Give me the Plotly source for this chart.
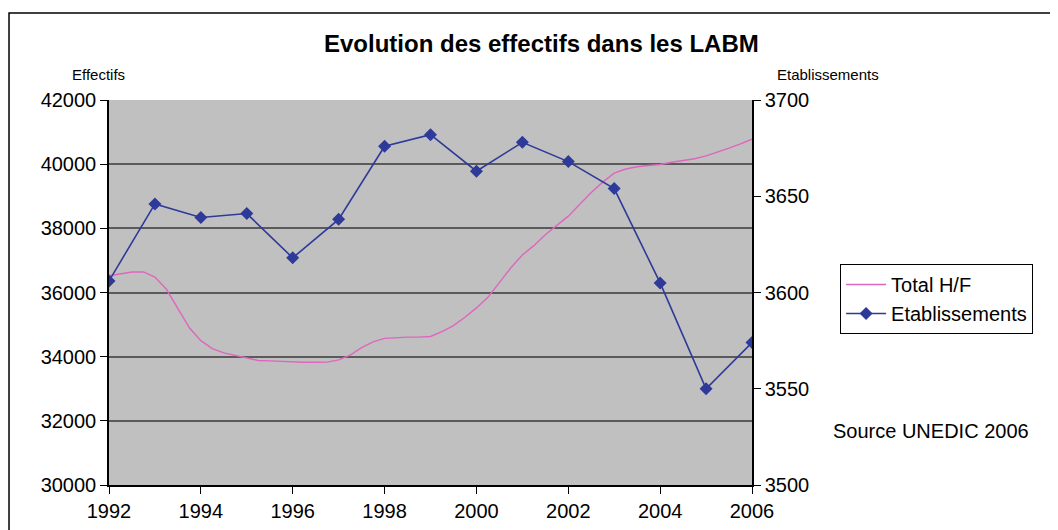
import plotly.graph_objects as go

# Etablissements (right axis), yearly
annees = [1992, 1993, 1994, 1995, 1996, 1997, 1998, 1999, 2000, 2001, 2002, 2003, 2004, 2005, 2006]
etablissements = [3606, 3646, 3639, 3641, 3618, 3638, 3676, 3682, 3663, 3678, 3668, 3654, 3605, 3550, 3574]

# Total H/F (left axis), quarterly from 1992 to 2006
trimestres = [1992 + i * 0.25 for i in range(57)]
total_hf = [
    36520, 36580, 36640, 36640,
    36480, 36100, 35500, 34900,
    34500, 34250, 34120, 34040,
    33960, 33880, 33870, 33850,
    33830, 33825, 33825, 33830,
    33900, 34050, 34280, 34460,
    34570, 34600, 34610, 34610,
    34630, 34780, 34970, 35230,
    35520, 35850, 36320, 36770,
    37170, 37460, 37800, 38100,
    38380, 38750, 39120, 39440,
    39720, 39850, 39920, 39960,
    39990, 40060, 40110, 40170,
    40260, 40370, 40500, 40630,
    40780,
]

FONT = "Arial, Liberation Sans, sans-serif"

fig = go.Figure()
fig.add_trace(go.Scatter(x=trimestres, y=total_hf, name="Total H/F", mode="lines",
                         line=dict(color="#DE66BE", width=1.4), yaxis="y"))
fig.add_trace(go.Scatter(x=annees, y=etablissements, name="Etablissements", mode="lines+markers",
                         line=dict(color="#2E3A99", width=1.6),
                         marker=dict(symbol="diamond", size=10, color="#2E3A99"), yaxis="y2"))

# page body has an 8px margin, so offsets are shifted accordingly
fig.update_layout(
    width=1058, height=530,
    margin=dict(l=101, r=314, t=92, b=53, autoexpand=False),
    paper_bgcolor="white", plot_bgcolor="#C0C0C0",
    font=dict(family=FONT, color="black", size=20),
    showlegend=True,
    legend=dict(x=1.137, xanchor="left", y=0.574, yanchor="top",
                bgcolor="white", bordercolor="black", borderwidth=1,
                font=dict(size=20), tracegroupgap=0, itemwidth=40),
    xaxis=dict(range=[1992, 2006], tick0=1992, dtick=2, showgrid=False,
               showline=True, linecolor="black", linewidth=1.5,
               ticks="outside", ticklen=7, tickcolor="black", zeroline=False),
    yaxis=dict(range=[30000, 42000], dtick=2000, tickformat="d",
               showgrid=True, gridcolor="#5A5A5A", gridwidth=1.5,
               showline=True, linecolor="black", linewidth=1.5,
               ticks="outside", ticklen=7, tickcolor="black", zeroline=False),
    yaxis2=dict(range=[3500, 3700], dtick=50, tickformat="d", overlaying="y", side="right", showgrid=False,
                showline=True, linecolor="black", linewidth=1.5,
                ticks="outside", ticklen=7, tickcolor="black", zeroline=False),
    annotations=[
        dict(text="<b>Evolution des effectifs dans les LABM</b>", xref="paper", yref="paper",
             x=0.672, y=1.148, xanchor="center", yanchor="middle", showarrow=False,
             font=dict(size=24)),
        dict(text="Effectifs", xref="paper", yref="paper", x=-0.0156, y=1.065,
             xanchor="center", yanchor="middle", showarrow=False, font=dict(size=15)),
        dict(text="Etablissements", xref="paper", yref="paper", x=1.118, y=1.065,
             xanchor="center", yanchor="middle", showarrow=False, font=dict(size=15)),
        dict(text="Source UNEDIC 2006", xref="paper", yref="paper", x=1.123, y=0.140,
             xanchor="left", yanchor="middle", showarrow=False, font=dict(size=20)),
    ],
    shapes=[
        dict(type="rect", xref="paper", yref="paper", x0=-0.1555, x1=1.474, y0=-0.12, y1=1.226,
             line=dict(color="black", width=1.5), layer="below"),
    ],
)

fig.write_html("out.html")
